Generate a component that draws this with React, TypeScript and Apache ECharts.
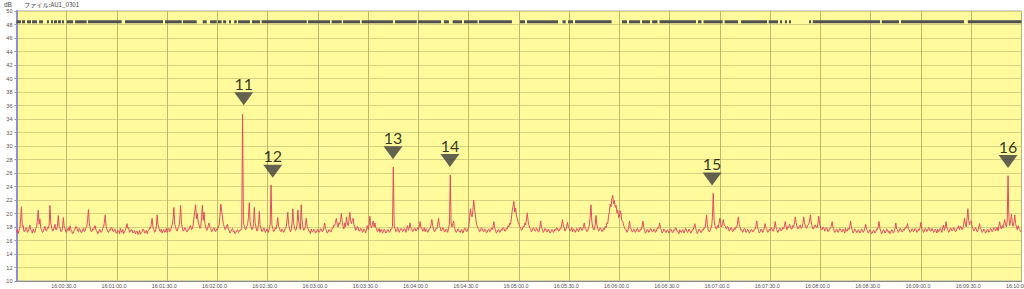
import React, { useEffect, useRef } from 'react';
import * as echarts from 'echarts';

// Sound level (dB), one reading every 0.5 s from 16:00:00 to 16:10:00
const STEP_SECONDS = 0.5;
const levelValues: number[] = [
  17.2, 17.6, 17.0, 17.5, 17.8, 19.2, 21.0, 18.0, 18.2, 17.3, 17.4, 17.8, 17.9, 17.2, 17.3, 17.7, 18.3, 17.6, 17.5, 17.1,
  17.7, 17.3, 17.2, 17.8, 18.0, 19.0, 20.5, 18.4, 19.2, 17.9, 17.6, 17.2, 17.3, 17.7, 18.1, 17.5, 17.4, 17.9, 17.8, 18.3,
  21.2, 18.6, 18.0, 17.4, 17.5, 17.9, 18.4, 17.6, 17.6, 18.2, 19.7, 18.1, 17.9, 17.3, 17.4, 17.8, 19.4, 18.0, 17.8, 17.2,
  17.3, 17.7, 17.9, 17.4, 18.2, 17.6, 17.4, 17.0, 17.1, 17.5, 17.7, 18.1, 18.0, 17.4, 17.3, 17.8, 17.6, 17.2, 17.2, 17.6,
  17.8, 17.3, 17.4, 17.9, 18.1, 19.1, 20.6, 18.5, 17.9, 17.4, 17.3, 17.7, 17.6, 18.0, 18.2, 17.5, 17.4, 17.0, 17.1, 17.6,
  17.6, 17.2, 17.3, 17.8, 18.0, 18.7, 19.8, 18.1, 17.7, 17.3, 17.2, 17.6, 17.5, 17.9, 17.9, 17.4, 17.3, 17.7, 17.6, 17.1,
  17.1, 17.5, 17.4, 17.0, 17.8, 17.4, 17.2, 17.6, 17.0, 17.3, 17.5, 17.9, 18.5, 17.8, 17.9, 17.2, 17.3, 17.6, 17.6, 17.1,
  17.2, 17.5, 17.0, 17.3, 17.4, 16.9, 17.1, 17.5, 16.9, 17.2, 17.3, 17.7, 17.6, 17.1, 17.2, 17.5, 17.0, 17.4, 17.5, 17.9,
  17.8, 18.4, 19.3, 17.9, 17.6, 17.2, 17.4, 18.1, 19.8, 18.3, 17.9, 17.4, 17.3, 17.7, 17.1, 17.5, 17.6, 17.2, 17.4, 17.8,
  17.2, 17.6, 17.8, 17.3, 17.5, 18.0, 18.3, 19.2, 20.9, 18.4, 18.0, 17.5, 17.4, 17.9, 18.1, 19.0, 21.2, 18.6, 17.9, 17.4,
  17.5, 17.9, 17.8, 17.3, 17.3, 17.7, 17.6, 18.1, 18.2, 17.6, 17.7, 18.3, 19.5, 20.4, 21.3, 19.2, 20.0, 18.7, 18.3, 17.8,
  17.9, 19.4, 21.2, 19.0, 20.2, 18.5, 18.0, 17.5, 17.6, 18.2, 18.6, 17.9, 17.8, 17.3, 17.4, 17.8, 17.9, 17.4, 17.3, 17.7,
  17.6, 18.0, 18.3, 19.6, 21.4, 20.3, 19.5, 18.4, 18.1, 17.6, 17.7, 18.2, 18.4, 17.7, 17.5, 17.1, 17.3, 17.6, 17.8, 17.3,
  17.4, 17.0, 17.2, 17.5, 17.6, 17.2, 17.3, 17.6, 17.5, 17.8, 34.7, 18.6, 18.2, 17.7, 17.6, 18.1, 18.3, 19.5, 21.6, 18.8,
  18.1, 17.6, 17.7, 18.5, 20.9, 18.6, 18.0, 17.4, 17.5, 18.4, 20.3, 18.2, 17.9, 17.3, 17.4, 17.8, 17.8, 17.2, 17.3, 17.7,
  17.6, 17.2, 17.9, 18.4, 24.2, 18.3, 17.8, 17.3, 17.4, 17.9, 17.7, 18.4, 19.4, 18.1, 17.9, 17.4, 17.3, 17.7, 17.6, 17.2,
  17.4, 17.8, 18.0, 18.9, 20.2, 18.4, 17.8, 17.3, 17.5, 18.6, 20.7, 18.5, 17.9, 17.5, 17.6, 18.3, 20.5, 18.9, 18.1, 17.6,
  21.3, 19.0, 18.0, 17.5, 17.6, 18.2, 19.3, 18.1, 17.8, 17.4, 17.4, 17.0, 17.7, 17.3, 17.3, 17.7, 17.5, 17.1, 17.2, 17.6,
  17.6, 17.2, 17.3, 17.7, 17.7, 17.3, 17.4, 17.9, 18.6, 17.8, 17.5, 17.1, 17.2, 17.6, 17.6, 17.3, 17.3, 17.8, 17.8, 18.3,
  18.2, 18.7, 19.3, 18.4, 18.0, 18.6, 18.4, 19.1, 20.0, 18.7, 18.1, 17.7, 18.6, 18.0, 19.5, 18.6, 18.2, 18.9, 20.2, 19.0,
  18.5, 19.0, 19.3, 18.3, 18.0, 17.5, 17.6, 18.1, 17.9, 17.4, 17.4, 17.8, 17.7, 17.2, 17.3, 17.7, 17.5, 17.1, 17.8, 18.2,
  17.6, 18.3, 19.6, 18.2, 17.9, 18.4, 18.9, 18.0, 18.6, 17.9, 17.7, 17.3, 17.4, 17.8, 17.2, 17.6, 17.6, 17.1, 17.3, 17.7,
  17.5, 17.1, 17.2, 17.6, 17.6, 17.2, 17.3, 17.7, 17.7, 18.1, 26.9, 18.2, 17.8, 17.3, 17.4, 17.9, 17.6, 17.2, 17.5, 17.8,
  17.7, 17.3, 17.4, 17.8, 17.6, 17.2, 17.8, 18.2, 17.5, 17.9, 18.6, 17.8, 17.7, 17.3, 17.4, 17.8, 17.8, 17.4, 17.5, 17.9,
  17.6, 18.1, 18.8, 17.9, 17.9, 17.4, 17.5, 17.9, 17.3, 17.7, 17.6, 17.2, 17.4, 17.8, 17.8, 18.3, 19.1, 18.2, 17.7, 17.3,
  17.4, 17.8, 17.7, 18.4, 19.3, 18.2, 17.9, 17.4, 17.5, 17.9, 17.8, 17.3, 17.3, 17.7, 17.6, 17.2, 17.9, 18.4, 25.7, 18.6,
  18.0, 18.5, 18.9, 17.9, 17.6, 17.2, 17.3, 17.7, 17.7, 17.3, 17.2, 17.6, 17.6, 17.1, 17.4, 17.8, 17.8, 17.4, 17.3, 17.8,
  17.9, 19.2, 20.7, 19.9, 19.5, 20.4, 22.0, 20.6, 19.8, 18.7, 18.2, 17.8, 17.7, 17.3, 17.4, 17.9, 17.8, 17.4, 17.3, 17.7,
  17.6, 17.2, 17.2, 17.6, 17.7, 17.3, 17.4, 17.8, 17.6, 18.0, 18.8, 17.9, 17.5, 17.1, 17.2, 17.6, 17.6, 17.2, 17.3, 17.7,
  17.5, 17.9, 17.8, 17.4, 17.4, 17.8, 17.7, 18.2, 18.0, 18.6, 18.4, 19.3, 20.5, 21.1, 21.8, 20.2, 20.8, 19.6, 19.3, 18.7,
  18.4, 18.0, 17.9, 17.5, 17.6, 18.1, 18.0, 18.6, 18.3, 19.2, 20.1, 18.8, 18.2, 17.8, 17.7, 17.3, 17.5, 17.9, 17.8, 17.4,
  17.4, 17.8, 17.7, 17.3, 17.3, 18.0, 18.9, 17.9, 17.6, 17.2, 17.4, 17.8, 17.7, 17.3, 17.3, 17.7, 17.5, 17.1, 17.2, 17.6,
  17.6, 17.2, 17.3, 17.7, 17.5, 17.9, 17.8, 17.4, 17.4, 17.8, 17.7, 18.3, 19.1, 18.2, 17.9, 17.4, 17.6, 18.1, 18.7, 17.9,
  17.8, 17.4, 17.5, 17.9, 17.3, 17.7, 17.6, 17.2, 17.4, 17.8, 17.7, 17.3, 17.5, 17.9, 17.9, 17.5, 17.6, 18.1, 18.6, 17.8,
  17.7, 17.3, 17.4, 17.9, 18.2, 19.4, 21.3, 18.9, 18.0, 17.6, 17.6, 18.3, 19.7, 18.4, 17.8, 17.4, 17.5, 17.9, 17.7, 17.3,
  17.4, 17.8, 17.6, 18.1, 17.9, 18.6, 18.5, 19.6, 20.3, 21.4, 21.0, 22.2, 22.7, 21.4, 21.9, 20.9, 21.2, 20.1, 20.5, 19.4,
  19.6, 20.4, 19.8, 18.9, 18.8, 18.2, 18.0, 17.6, 17.6, 17.2, 17.4, 17.9, 18.9, 17.9, 17.7, 17.3, 17.3, 17.7, 17.6, 17.2,
  17.4, 17.8, 17.7, 17.3, 17.3, 17.7, 17.6, 18.1, 18.9, 17.9, 17.5, 17.1, 17.2, 17.6, 17.6, 17.2, 17.4, 17.8, 17.7, 17.3,
  17.3, 17.7, 17.6, 17.2, 17.4, 17.8, 17.7, 18.0, 18.6, 17.8, 17.5, 17.1, 17.3, 17.7, 17.6, 17.2, 17.2, 17.6, 17.5, 17.1,
  17.3, 17.7, 17.6, 17.2, 17.2, 17.6, 17.5, 17.9, 17.7, 17.3, 17.3, 17.0, 17.6, 17.3, 17.2, 17.6, 17.5, 17.1, 17.4, 17.8,
  17.6, 17.2, 17.3, 17.7, 17.5, 17.1, 17.2, 17.6, 17.6, 18.0, 18.5, 17.8, 17.4, 17.0, 17.3, 17.7, 17.6, 17.2, 17.2, 17.6,
  17.5, 17.9, 17.8, 18.6, 19.8, 18.3, 17.6, 17.3, 17.4, 17.8, 18.0, 19.4, 23.0, 19.0, 18.2, 17.8, 17.7, 18.2, 17.9, 18.6,
  19.3, 18.4, 18.0, 18.5, 19.1, 18.3, 18.2, 17.8, 17.7, 18.1, 17.9, 17.4, 17.5, 17.9, 17.8, 17.3, 17.4, 17.8, 17.6, 18.0,
  17.9, 18.6, 19.5, 18.4, 18.0, 17.5, 17.6, 17.2, 17.4, 17.8, 17.7, 17.2, 17.3, 17.7, 17.5, 17.1, 17.2, 17.6, 17.6, 17.3,
  17.3, 17.7, 17.7, 18.2, 18.9, 17.9, 17.5, 17.1, 17.3, 17.7, 17.6, 17.2, 17.4, 17.9, 18.5, 17.8, 17.6, 17.2, 17.3, 17.7,
  17.5, 17.9, 17.8, 17.4, 17.4, 18.0, 18.8, 17.9, 17.6, 17.2, 17.4, 17.8, 17.8, 17.4, 17.5, 17.9, 17.7, 18.2, 18.8, 18.0,
  17.6, 18.0, 17.9, 18.4, 18.2, 17.7, 17.7, 18.2, 18.0, 18.7, 19.5, 18.6, 18.1, 17.7, 17.8, 18.2, 18.3, 17.8, 17.9, 18.5,
  19.5, 18.6, 18.2, 17.8, 17.9, 18.3, 18.4, 18.9, 19.8, 18.7, 18.1, 17.7, 17.8, 18.2, 18.3, 17.9, 17.9, 18.5, 19.6, 18.5,
  18.0, 17.6, 17.6, 18.0, 17.9, 17.4, 17.5, 17.9, 17.7, 17.3, 17.4, 17.8, 17.8, 18.2, 18.8, 17.9, 17.6, 17.2, 17.3, 17.7,
  17.6, 17.2, 17.4, 17.8, 17.7, 17.3, 17.3, 17.7, 17.5, 17.1, 17.8, 17.4, 17.4, 17.8, 17.6, 18.1, 18.9, 17.9, 17.5, 17.1,
  17.3, 17.7, 17.6, 17.2, 17.2, 17.6, 17.5, 17.1, 17.3, 17.7, 17.6, 17.2, 17.4, 17.8, 18.4, 17.7, 17.5, 17.1, 17.2, 17.6,
  17.4, 17.0, 17.1, 17.5, 17.5, 17.1, 17.3, 17.7, 17.6, 18.1, 18.8, 17.8, 17.4, 17.0, 17.2, 17.6, 17.5, 17.1, 17.3, 17.7,
  17.6, 17.2, 17.4, 17.0, 17.2, 17.6, 17.5, 17.1, 17.3, 17.8, 18.6, 17.7, 17.6, 17.2, 17.4, 17.8, 17.7, 17.3, 17.3, 17.7,
  17.5, 17.9, 17.8, 18.1, 18.5, 17.7, 17.6, 17.2, 17.3, 17.7, 17.7, 17.3, 17.4, 17.8, 17.6, 17.2, 17.3, 17.7, 17.5, 17.9,
  18.7, 17.8, 17.6, 17.2, 17.4, 17.8, 17.7, 17.3, 17.5, 17.9, 17.8, 17.4, 17.4, 17.8, 17.6, 17.2, 17.3, 17.7, 17.5, 17.1,
  17.7, 17.3, 17.4, 17.8, 17.6, 17.2, 17.9, 18.3, 17.5, 17.9, 18.8, 17.9, 17.6, 17.2, 17.4, 17.8, 17.8, 17.4, 17.5, 17.9,
  17.7, 17.3, 17.4, 17.8, 17.8, 18.2, 17.6, 18.1, 18.0, 17.6, 17.7, 18.4, 19.3, 18.5, 18.0, 19.2, 20.7, 19.0, 18.3, 18.8,
  18.9, 18.1, 17.8, 17.4, 17.5, 17.9, 17.7, 17.3, 17.4, 18.0, 18.5, 17.8, 17.6, 17.2, 17.3, 17.7, 17.5, 17.1, 17.2, 17.6,
  17.6, 17.2, 17.4, 17.8, 17.7, 17.3, 17.5, 17.9, 17.8, 17.4, 17.6, 18.0, 17.4, 18.1, 18.8, 18.0, 17.7, 18.2, 17.9, 18.5,
  19.1, 18.4, 18.0, 18.9, 25.6, 19.4, 18.2, 18.9, 19.9, 18.6, 18.1, 18.7, 19.8, 18.5, 18.0, 17.6, 18.2, 17.8, 17.6, 17.3,
  17.4,
];

// Top status band: on-intervals (seconds from 16:00:00)
const BAND_LEVEL = 48.4;
const bandStart: number[] = [
  0, 3.3, 6.3, 9.3, 13.5, 18.2, 20.6, 22.4, 24.8, 27.2, 30, 35, 42.7, 64.8, 88.7, 99.4,
  111.2, 115.6, 120.3, 123.4, 126.9, 130, 132.3, 140.6, 146.4, 174.1, 188.2, 195, 206.1, 226,
  239.7, 255.2, 260.4, 267.2, 276.1, 300.6, 304.8, 326, 329.3, 333.5, 361.5, 365.7, 373.5, 379.5,
  383.9, 406.9, 410.2, 422.8, 432.6, 449.1, 455.9, 458.8, 461.2, 473.2, 475.4, 516.6, 528.1, 568,
];
const bandEnd: number[] = [
  2.7, 5.1, 8.7, 12.3, 15.8, 19.4, 21.8, 24.2, 26.6, 28.4, 33.8, 41.9, 62.8, 87.5, 98.7, 107.6,
  113.6, 119.6, 122.5, 125.2, 128.1, 131.5, 139.4, 145.4, 173.3, 187.2, 194.2, 205.1, 224.8, 239,
  253.5, 258.2, 266, 275.3, 295.8, 303.6, 323.3, 327.9, 332.3, 355.3, 364.5, 372.3, 378.3, 382.7,
  405.7, 409, 421.6, 430.8, 448.1, 454.7, 457.1, 460, 462.4, 474.4, 515.6, 526.9, 565.7, 600,
];

// Event markers
const markerNames = ['11', '12', '13', '14', '15', '16'];
const markerTimes = [135.7, 153.0, 224.8, 258.8, 415.3, 592.0];
const markerLevels = [37.0, 26.25, 29.0, 27.85, 25.1, 27.7];

const Y_MIN = 10;
const Y_MAX = 50;
const Y_STEP = 2;
const X_MIN = 0;
const X_MAX = 600;
const X_STEP = 30;
const START_HOUR = 16;

const pad = (n: number) => (n < 10 ? '0' + n : '' + n);
const fmtTime = (sec: number) => {
  if (sec === 0) return '';
  const m = Math.floor(sec / 60);
  const s = Math.round(sec % 60);
  const h = START_HOUR + Math.floor(m / 60);
  return `${h}:${pad(m % 60)}:${pad(s)}.0`;
};

export default function App() {
  const ref = useRef<HTMLDivElement>(null);
  useEffect(() => {
    document.documentElement.style.overflow = 'hidden';
    document.body.style.overflow = 'hidden';
    const chart = echarts.init(ref.current!, null, { renderer: 'svg', width: 1024, height: 289 });
    const lineData = levelValues.map((v, i) => [i * STEP_SECONDS, v]);
    const bandData = bandStart.map((s, i) => [s, bandEnd[i], BAND_LEVEL]);
    const markerData = markerTimes.map((t, i) => [t, markerLevels[i]]);
    chart.setOption({
      animation: false,
      backgroundColor: '#ffffff',
      textStyle: { fontFamily: 'Liberation Sans' },
      graphic: [
        { type: 'text', left: 4, top: 1, style: { text: 'dB', fontSize: 6.5, fill: '#444', fontFamily: 'Liberation Sans' } },
        { type: 'text', left: 24, top: 1, style: { text: 'ファイル:AU1_0301', fontSize: 6.2, fill: '#444', fontFamily: 'Noto Sans CJK JP' } },
      ],
      grid: {
        left: 16.45,
        top: 11,
        width: 1005,
        height: 270,
        containLabel: false,
        outerBoundsMode: 'none',
        show: true,
        backgroundColor: '#fffb9c',
        borderColor: '#a8a8a8',
        borderWidth: 1,
      },
      xAxis: {
        type: 'value',
        min: X_MIN,
        max: X_MAX,
        interval: X_STEP,
        axisLine: { show: true, lineStyle: { color: '#8c8c8c', width: 1 } },
        axisTick: { show: false },
        axisLabel: {
          fontSize: 5.3,
          color: '#505050',
          margin: 2,
          padding: [0, 6, 0, 0],
          formatter: fmtTime,
          fontFamily: 'Liberation Sans',
        },
        splitLine: { show: true, lineStyle: { color: '#bdb86c', width: 1 } },
      },
      yAxis: {
        type: 'value',
        min: Y_MIN,
        max: Y_MAX,
        interval: Y_STEP,
        axisLine: { show: true, lineStyle: { color: '#8f8fd6', width: 2 } },
        axisTick: { show: true, length: 2, lineStyle: { color: '#999' } },
        axisLabel: { fontSize: 5.5, color: '#505050', margin: 4, fontFamily: 'Liberation Sans' },
        splitLine: { show: true, lineStyle: { color: '#d8d27e', width: 1 } },
      },
      series: [
        {
          type: 'line',
          data: lineData,
          showSymbol: false,
          silent: true,
          lineStyle: { color: '#e24c62', width: 1 },
          z: 2,
        },
        {
          type: 'custom',
          data: bandData,
          encode: { x: [0, 1], y: 2 },
          silent: true,
          z: 3,
          renderItem: (params: any, api: any) => {
            const s = api.coord([api.value(0), api.value(2)]);
            const e = api.coord([api.value(1), api.value(2)]);
            return {
              type: 'rect',
              shape: { x: s[0], y: s[1] - 1.5, width: Math.max(1, e[0] - s[0]), height: 3 },
              style: { fill: '#4f4f4f' },
            };
          },
        },
        {
          type: 'scatter',
          data: markerData,
          symbol: 'triangle',
          symbolRotate: 180,
          symbolSize: [19, 13],
          itemStyle: { color: '#3c3c3c' },
          silent: true,
          z: 5,
          label: {
            show: true,
            position: 'top',
            distance: 1,
            formatter: (p: any) => markerNames[p.dataIndex],
            fontSize: 16,
            fontFamily: 'Lato',
            color: '#000',
          },
        },
      ],
    });
    return () => chart.dispose();
  }, []);
  return (
    <div style={{ position: 'absolute', left: 0, top: 0, width: 1024, height: 289, overflow: 'hidden' }}>
      <div ref={ref} style={{ width: 1024, height: 289 }} />
    </div>
  );
}
